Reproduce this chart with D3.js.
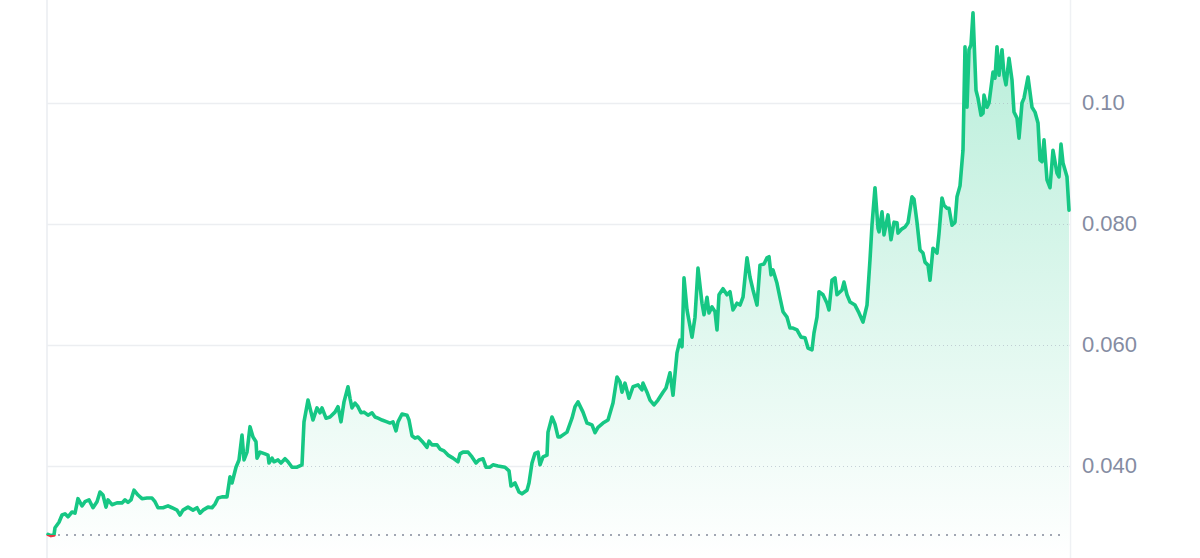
<!DOCTYPE html>
<html>
<head>
<meta charset="utf-8">
<script src="https://cdn.jsdelivr.net/npm/d3@7"></script>
<style>
  html, body { margin: 0; padding: 0; background: #fff; }
  svg { display: block; }
</style>
</head>
<body>
<svg id="chart" width="1200" height="558"></svg>
<script>
// sample time index (relative units) and price
const times = [
  0,3,6,7,11,14,17,20,24,27,30,34,37,41,45,49,52,55,58,60,64,69,74,77,80,83,86,90,94,99,104,107,110,115,120,124,129,132,135,140,145,149,152,155,160,164,167,
  170,174,179,182,184,188,191,194,196,199,202,205,208,209,212,217,220,221,224,226,230,233,237,240,244,249,254,256,260,263,265,269,272,274,278,282,287,290,293,296,300,302,304,307,310,313,316,320,324,327,330,334,339,
  342,345,348,350,354,359,361,364,367,370,374,379,381,384,389,392,396,400,405,410,412,415,420,424,428,431,435,438,442,445,450,457,461,463,467,471,474,479,481,484,487,490,492,495,499,500,504,507,510,
  512,519,524,527,530,535,539,544,547,550,555,560,565,569,572,574,577,581,585,590,594,595,599,602,606,610,615,618,622,625,629,632,634,636,639,644,647,650,654,656,659,661,664,667,669,671,675,679,682,685,689,692,695,699,702,705,709,712,716,719,721,723,725,729,732,735,739,742,745,749,753,757,760,764,766,769,771,775,779,781,784,787,789,794,796,799,802,807,811,
  815,819,822,824,827,830,831,834,836,840,843,846,849,850,854,857,860,864,866,869,872,875,877,880,882,885,889,891,894,896,899,901,904,907,909,912,915,917,919,921,923,925,928,930,933,935,936,939,941,944,945,947,949,951,954,956,958,961,964,966,969,971,974,976,980,984,987,990,992,994,996,999,1002,1005,1009,1011,1013,1015,1019,1021
];
const prices = [
  0.0287,0.0285,0.0286,0.0298,0.0307,0.0319,0.0321,0.0316,0.0324,0.0322,0.0346,0.0334,0.0341,0.0344,0.0331,0.0341,0.0357,0.0352,0.0332,0.0344,0.0336,0.0339,0.0339,0.0344,0.0340,0.0344,0.0360,0.0352,0.0346,0.0347,0.0347,0.0341,0.0331,0.0331,0.0334,0.0331,0.0327,0.0319,0.0327,0.0332,0.0327,0.0331,0.0322,0.0327,0.0332,0.0331,0.0337,
  0.0347,0.0349,0.0349,0.0382,0.0372,0.0398,0.0410,0.0451,0.0410,0.0423,0.0465,0.0448,0.0440,0.0413,0.0423,0.0420,0.0418,0.0405,0.0413,0.0407,0.0410,0.0405,0.0412,0.0407,0.0398,0.0398,0.0402,0.0473,0.0509,0.0489,0.0476,0.0496,0.0488,0.0496,0.0479,0.0481,0.0489,0.0498,0.0473,0.0506,0.0531,0.0512,0.0496,0.0504,0.0498,0.0488,0.0489,0.0484,0.0488,0.0481,0.0479,0.0476,0.0473,
  0.0471,0.0473,0.0458,0.0473,0.0486,0.0484,0.0476,0.0450,0.0446,0.0448,0.0441,0.0431,0.0441,0.0435,0.0435,0.0428,0.0425,0.0418,0.0413,0.0407,0.0420,0.0423,0.0423,0.0415,0.0405,0.0410,0.0412,0.0398,0.0398,0.0402,0.0400,0.0398,0.0392,0.0367,0.0372,0.0357,0.0354,0.0360,0.0372,0.0405,0.0421,0.0423,0.0402,0.0415,0.0418,0.0456,0.0481,0.0469,0.0448,
  0.0448,0.0456,0.0479,0.0498,0.0506,0.0489,0.0471,0.0468,0.0455,0.0464,0.0471,0.0476,0.0504,0.0547,0.0539,0.0522,0.0537,0.0512,0.0531,0.0534,0.0526,0.0537,0.0522,0.0509,0.0501,0.0509,0.0522,0.0529,0.0554,0.0517,0.0587,0.0608,0.0597,0.0711,0.0658,0.0613,0.0646,0.0727,0.0669,0.0650,0.0679,0.0653,0.0663,0.0655,0.0625,0.0683,0.0693,0.0683,0.0688,0.0658,0.0669,0.0666,0.0679,0.0744,0.0712,0.0691,0.0666,0.0732,0.0734,0.0744,0.0746,0.0716,0.0724,0.0702,0.0678,0.0655,0.0646,0.0628,0.0628,0.0625,0.0613,0.0612,0.0595,0.0592,0.0620,0.0646,0.0688,0.0683,0.0669,0.0658,0.0707,0.0711,0.0683,0.0691,0.0704,0.0683,0.0671,0.0666,0.0653,
  0.0638,0.0666,0.0741,0.0798,0.0860,0.0793,0.0787,0.0820,0.0782,0.0815,0.0774,0.0803,0.0802,0.0785,0.0792,0.0795,0.0802,0.0845,0.0841,0.0803,0.0757,0.0752,0.0737,0.0732,0.0707,0.0760,0.0752,0.0784,0.0843,0.0831,0.0826,0.0826,0.0798,0.0803,0.0845,0.0863,0.0922,0.1093,0.0993,0.1088,0.1096,0.1149,0.1021,0.1008,0.0980,0.0983,0.1013,0.0993,0.1000,0.1038,0.1051,0.1041,0.1093,0.1046,0.1088,0.1046,0.1030,0.1074,0.1038,0.0985,0.0975,0.0942,0.1000,0.1008,0.1043,0.0993,0.0985,0.0967,0.0906,0.0903,0.0939,0.0873,0.0860,0.0922,0.0884,0.0878,0.0932,0.0901,0.0878,0.0823
];
const yTicks = [0.04, 0.06, 0.08, 0.10];
const yTickLabels = ["0.040", "0.060", "0.080", "0.10"];
const baselinePrice = 0.0286;

const n = Math.min(times.length, prices.length);
const data = d3.range(n).map(i => ({ t: times[i], p: prices[i] }));

const W = 1200, H = 558;
const plotLeft = 47, plotRight = 1070;
const svg = d3.select("#chart");

const x = d3.scaleLinear().domain(d3.extent(times)).range([48, 1069]);
const y = d3.scaleLinear().domain([0.02, 0.12]).range([587, -18]);

// defs
const defs = svg.append("defs");
const grad = defs.append("linearGradient")
  .attr("id", "areaGrad").attr("gradientUnits", "userSpaceOnUse")
  .attr("x1", 0).attr("y1", 0).attr("x2", 0).attr("y2", H);
grad.append("stop").attr("offset", "0%").attr("stop-color", "#16c784").attr("stop-opacity", 0.32);
grad.append("stop").attr("offset", "100%").attr("stop-color", "#16c784").attr("stop-opacity", 0.0);

const area = d3.area().x(d => x(d.t)).y0(H).y1(d => y(d.p)).curve(d3.curveLinear);
const line = d3.line().x(d => x(d.t)).y(d => y(d.p)).curve(d3.curveLinear);

defs.append("clipPath").attr("id", "areaClip").append("path").attr("d", area(data));
defs.append("clipPath").attr("id", "aboveBase").append("rect")
  .attr("x", 0).attr("y", 0).attr("width", W).attr("height", y(baselinePrice));
defs.append("clipPath").attr("id", "belowBase").append("rect")
  .attr("x", 0).attr("y", y(baselinePrice)).attr("width", W).attr("height", H - y(baselinePrice));

// vertical border lines
svg.append("line").attr("x1", plotLeft).attr("x2", plotLeft).attr("y1", 0).attr("y2", H)
  .attr("stroke", "#eff1f4").attr("stroke-width", 2);
svg.append("line").attr("x1", plotRight + 0.5).attr("x2", plotRight + 0.5).attr("y1", 0).attr("y2", H)
  .attr("stroke", "#eff1f4").attr("stroke-width", 1.5);

// gridlines (solid)
svg.append("g").selectAll("line").data(yTicks).join("line")
  .attr("x1", plotLeft).attr("x2", plotRight)
  .attr("y1", d => Math.round(y(d)) + 0.5).attr("y2", d => Math.round(y(d)) + 0.5)
  .attr("stroke", "#eceef1").attr("stroke-width", 1.5);

// area: white base covering the solid grid, then gradient
svg.append("path").attr("d", area(data)).attr("fill", "#fff");
svg.append("path").attr("d", area(data)).attr("fill", "url(#areaGrad)");

// dotted gridlines inside area
svg.append("g").attr("clip-path", "url(#areaClip)").selectAll("line").data(yTicks).join("line")
  .attr("x1", plotLeft).attr("x2", plotRight)
  .attr("y1", d => Math.round(y(d)) + 0.5).attr("y2", d => Math.round(y(d)) + 0.5)
  .attr("stroke", "#a9b3bf").attr("stroke-opacity", 0.6).attr("stroke-width", 1)
  .attr("stroke-dasharray", "1,3");

// baseline dotted line
svg.append("line")
  .attr("x1", plotLeft + 3).attr("x2", plotRight - 4)
  .attr("y1", y(baselinePrice)).attr("y2", y(baselinePrice))
  .attr("stroke", "#a1a7b3").attr("stroke-width", 2).attr("stroke-dasharray", "2,6");

// price line (green above start price, red below)
svg.append("path").attr("d", line(data)).attr("fill", "none")
  .attr("stroke", "#16c784").attr("stroke-width", 3.6)
  .attr("stroke-linejoin", "round").attr("stroke-linecap", "round")
  .attr("clip-path", "url(#aboveBase)");
svg.append("path").attr("d", line(data)).attr("fill", "none")
  .attr("stroke", "#ea3943").attr("stroke-width", 3.6)
  .attr("stroke-linejoin", "round").attr("stroke-linecap", "round")
  .attr("clip-path", "url(#belowBase)");

// y axis on right
const yAxis = d3.axisRight(y).tickValues(yTicks)
  .tickFormat((d, i) => yTickLabels[i]).tickSize(0).tickPadding(0);
const ag = svg.append("g").attr("transform", `translate(1082,0)`).call(yAxis);
ag.select(".domain").remove();
ag.selectAll("text")
  .attr("fill", "#858ca2")
  .attr("font-family", "'Liberation Sans', Arial, sans-serif")
  .attr("font-size", 22)
  .attr("dy", "0.28em");
</script>
</body>
</html>
